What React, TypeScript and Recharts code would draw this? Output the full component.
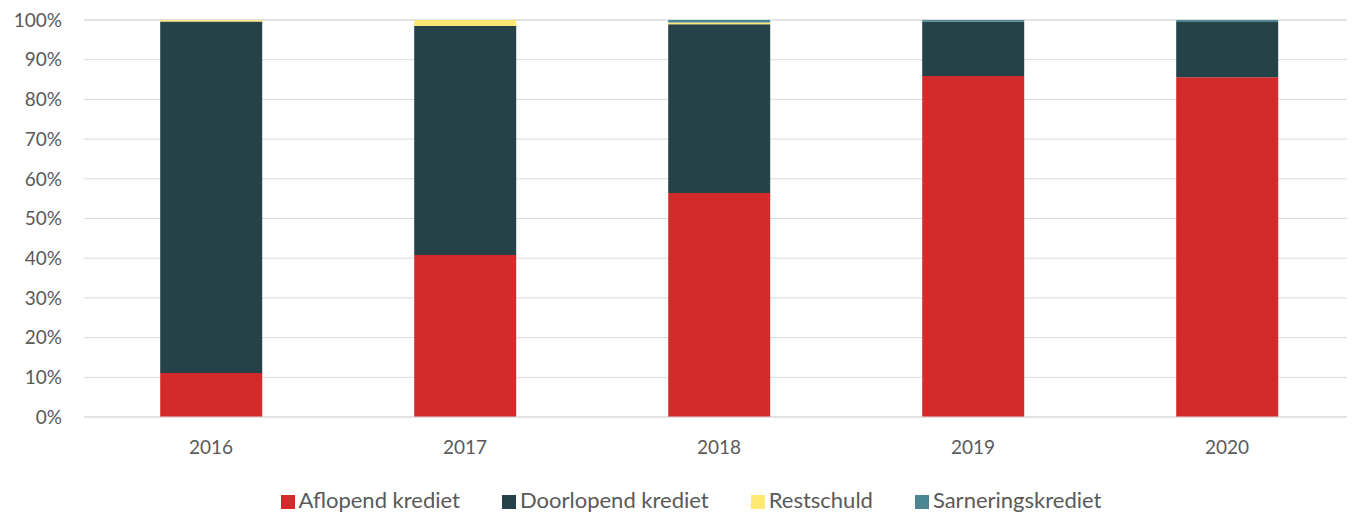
import React from "react";
import { BarChart, Bar, XAxis, YAxis, CartesianGrid, Legend } from "recharts";

const years = ["2016", "2017", "2018", "2019", "2020"];
const aflopend = [11.1, 40.8, 56.4, 85.9, 85.6];
const doorlopend = [88.5, 57.7, 42.5, 13.7, 13.9];
const restschuld = [0.4, 1.5, 0.5, 0, 0];
const sanering = [0, 0, 0.6, 0.4, 0.5];
const yTicks = [0, 10, 20, 30, 40, 50, 60, 70, 80, 90, 100];

const data = years.map((y, i) => ({
  year: y,
  aflopend: aflopend[i],
  doorlopend: doorlopend[i],
  restschuld: restschuld[i],
  sanering: sanering[i],
}));

const FONT = "Lato, 'Open Sans', sans-serif";

export default function App() {
  return (
    <div style={{ marginLeft: -8, marginTop: -8, width: 1355, height: 512 }}>
      <BarChart
        width={1355}
        height={512}
        data={data}
        margin={{ top: 20, right: 1, left: 0, bottom: 0 }}
        barCategoryGap="30%"
      >
        <CartesianGrid vertical={false} stroke="#d9d9d9" strokeWidth={1} />
        <XAxis
          dataKey="year"
          tickLine={false}
          axisLine={{ stroke: "#d9d9d9" }}
          tick={{ fill: "#595959", fontSize: 19, fontFamily: FONT }}
          tickMargin={18}
          height={44}
        />
        <YAxis
          width={84}
          domain={[0, 100]}
          ticks={yTicks}
          interval={0}
          tickFormatter={(v) => `${v}%`}
          tickLine={false}
          axisLine={false}
          tickMargin={16}
          tick={{ fill: "#595959", fontSize: 19, fontFamily: FONT }}
        />
        <Legend
          verticalAlign="bottom"
          iconType="square"
          iconSize={14}
          wrapperStyle={{
            fontFamily: FONT,
            fontSize: 22,
            color: "#595959",
            lineHeight: "24px",
            height: 51,
            boxSizing: "border-box",
            paddingTop: 27,
            paddingLeft: 70,
            overflow: "visible",
          }}
          formatter={(value) => <span style={{ color: "#595959", marginRight: 32 }}>{value}</span>}
        />
        <Bar dataKey="aflopend" name="Aflopend krediet" stackId="a" fill="#D32B2B" isAnimationActive={false} />
        <Bar dataKey="doorlopend" name="Doorlopend krediet" stackId="a" fill="#264249" isAnimationActive={false} />
        <Bar dataKey="restschuld" name="Restschuld" stackId="a" fill="#FDE874" isAnimationActive={false} />
        <Bar dataKey="sanering" name="Sarneringskrediet" stackId="a" fill="#4A8793" isAnimationActive={false} />
      </BarChart>
    </div>
  );
}
